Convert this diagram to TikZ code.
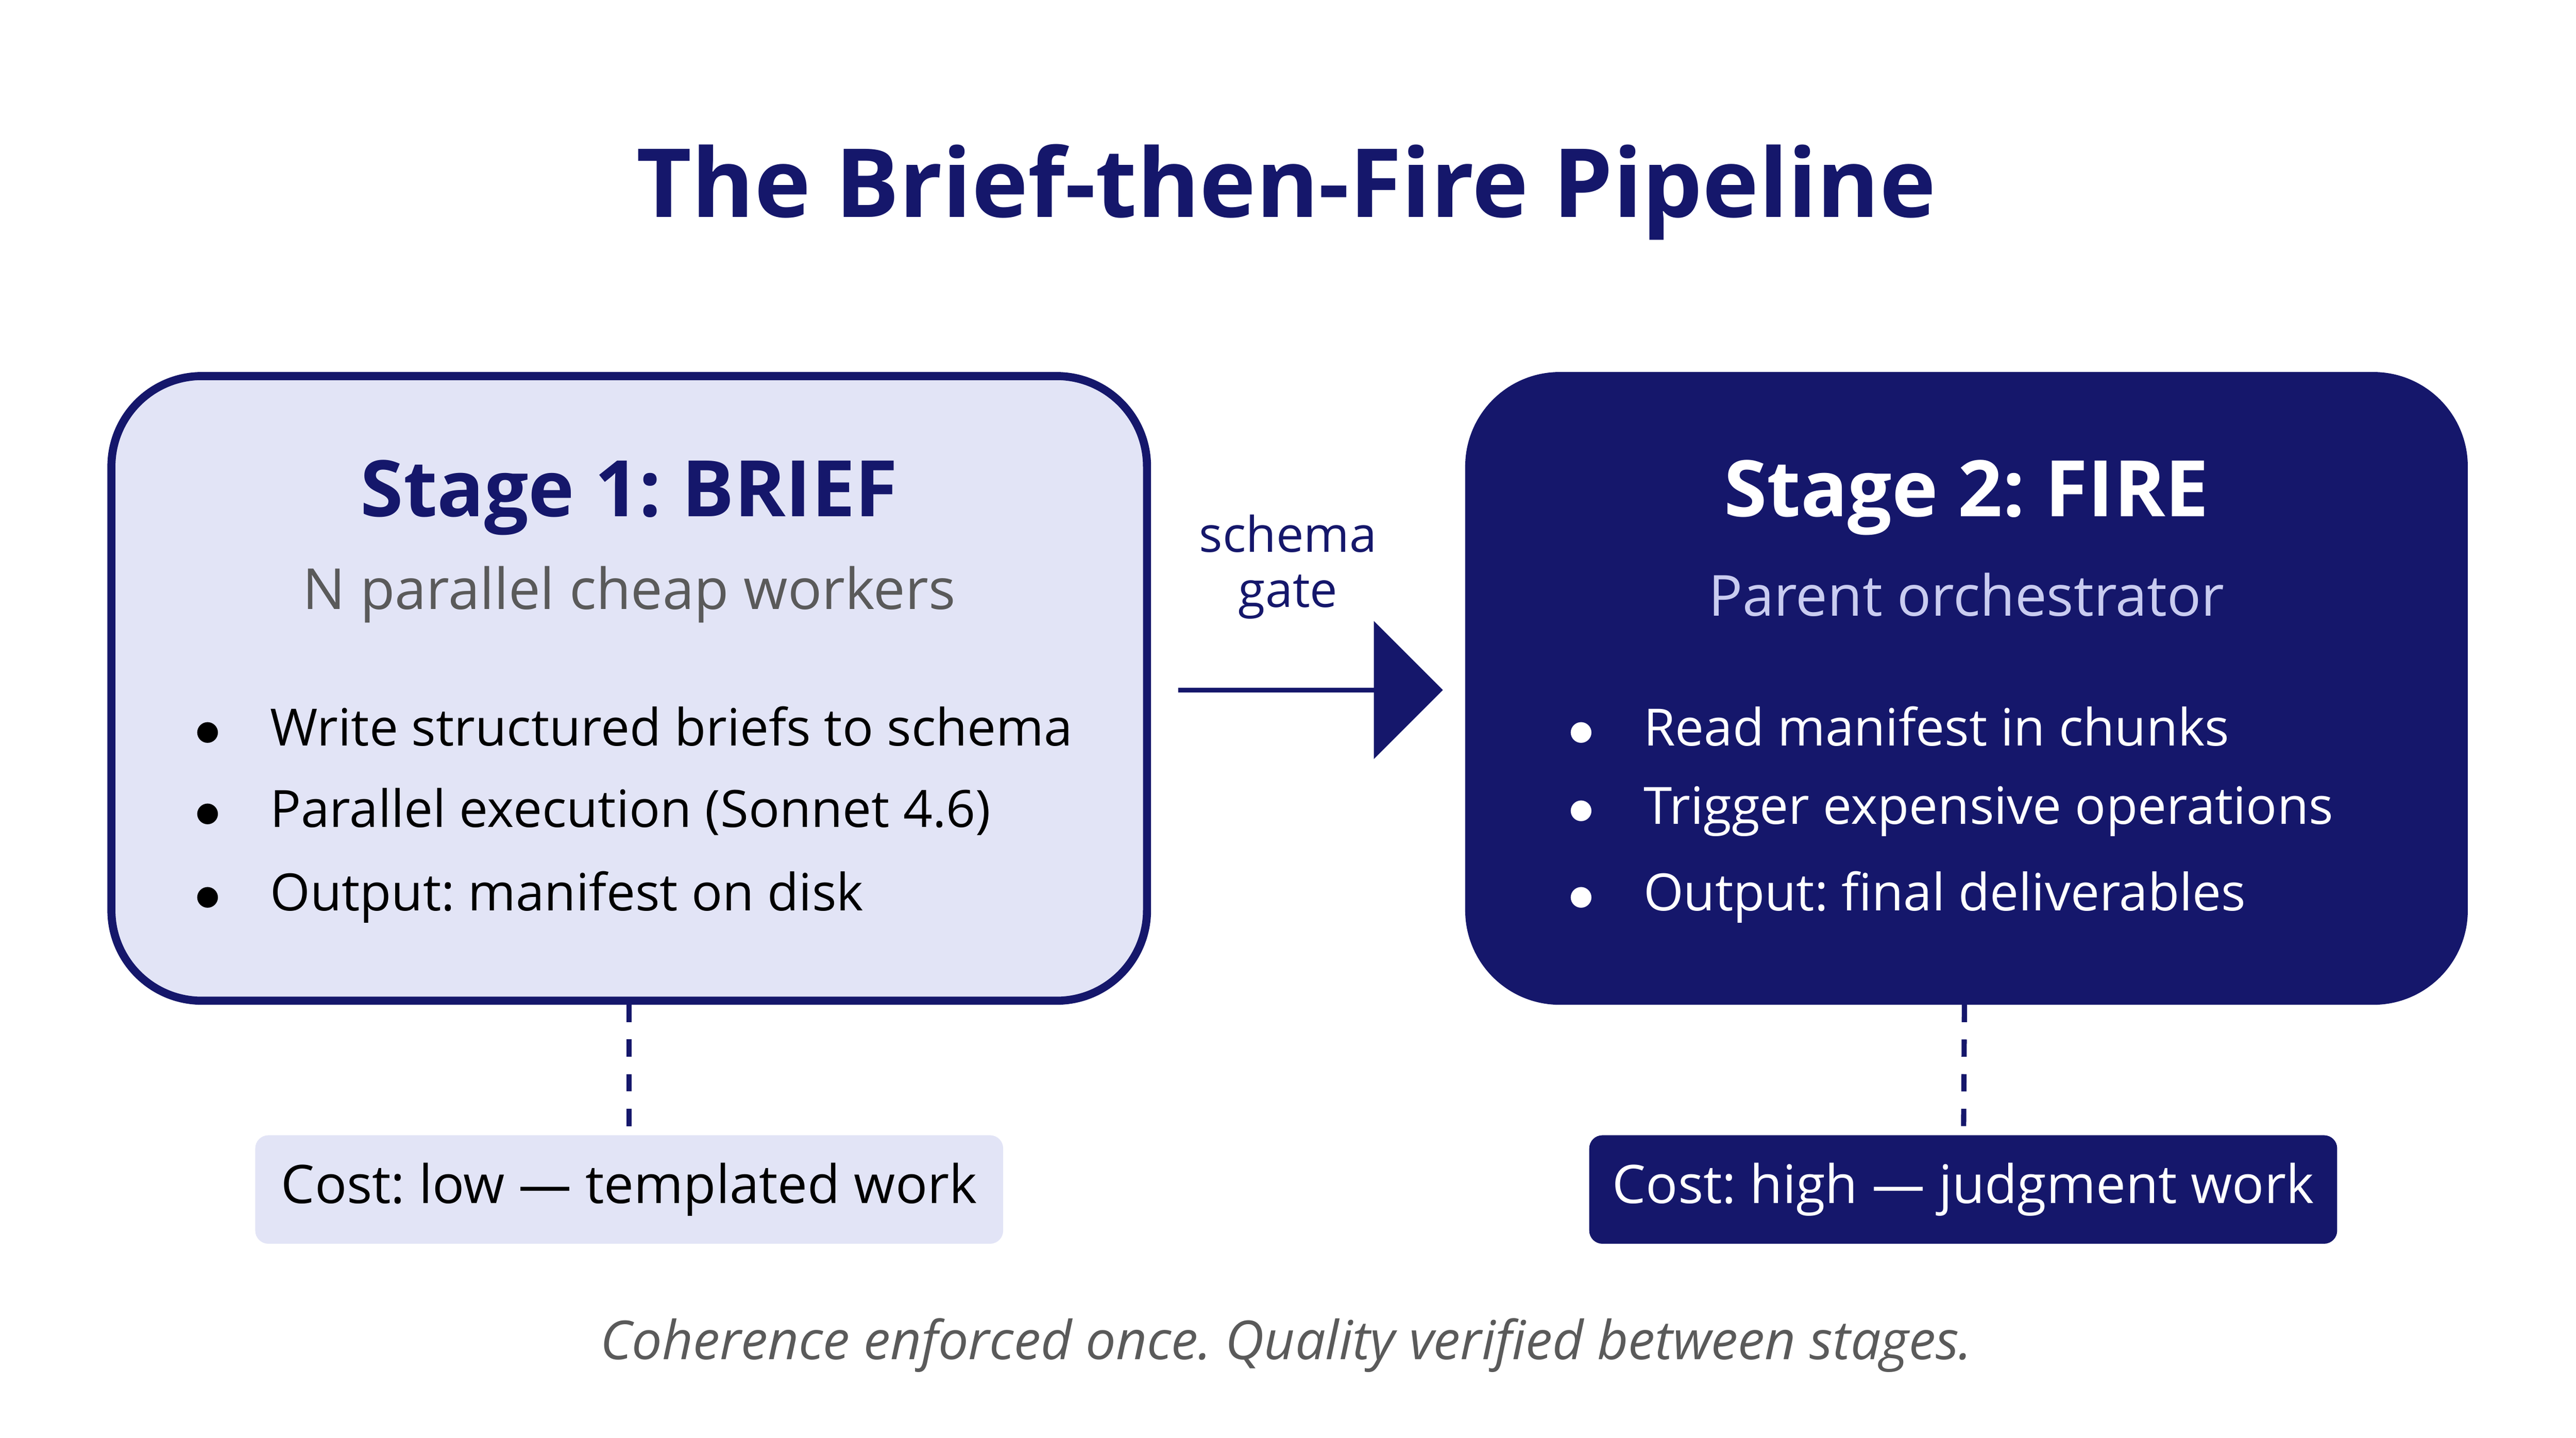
\documentclass[tikz,border=0pt]{standalone}
\usepackage{fontspec}
\setmainfont{Open Sans}
\usepackage{xcolor}
\usetikzlibrary{arrows.meta,positioning,shapes.arrows,calc}
\definecolor{navy}{HTML}{15176B}
\definecolor{lav}{HTML}{E2E4F6}
\definecolor{capgray}{HTML}{5A5A5A}
\definecolor{subblue}{HTML}{C9CCF0}

\begin{document}
\frenchspacing
\begin{tikzpicture}[
  x=0.01cm, y=-0.01cm,
  stage/.style={rectangle, rounded corners=0.55cm, line width=1.4pt, draw=navy, minimum width=6.3cm, minimum height=3.8cm},
  cost/.style={rectangle, rounded corners=0.08cm, minimum width=4.55cm, minimum height=0.66cm, font=\fontsize{9.2}{11}\selectfont},
  bullet/.style={anchor=west, font=\fontsize{8.9}{11}\selectfont},
  link/.style={navy, line width=0.9pt, dash pattern=on 3pt off 3pt}
]
\useasboundingbox (0,0) rectangle (1568,875);

% Title
\node[font=\fontsize{16.5}{19}\selectfont\bfseries, text=navy] (title) at (783,117) {The Brief-then-Fire Pipeline};

% Stage boxes
\node[stage, fill=lav] (brief) at (383,419) {};
\node[stage, fill=navy, minimum width=6.05cm] (fire) at (1197,419) {};

% Stage 1 text
\node[font=\fontsize{13.5}{16}\selectfont\bfseries, text=navy] (b1) at (383,303) {Stage 1: BRIEF};
\node[font=\fontsize{9.8}{12}\selectfont, text=capgray] (b2) at (383,362) {N parallel cheap workers};
\foreach \t [count=\i] in {Write structured briefs to schema, Parallel execution (Sonnet 4.6), Output: manifest on disk}
  \node[bullet] (bb\i) at (106,390+52*\i) {$\bullet$\hspace{0.95em}\t};

% Stage 2 text
\node[font=\fontsize{13.5}{16}\selectfont\bfseries, text=white] (f1) at (1197,303) {Stage 2: FIRE};
\node[font=\fontsize{9.8}{12}\selectfont, text=subblue] (f2) at (1197,362) {Parent orchestrator};
\foreach \t [count=\i] in {Read manifest in chunks, Trigger expensive operations, Output: final deliverables}
  \node[bullet, text=white] (fb\i) at (942,390+52*\i) {$\bullet$\hspace{0.95em}\t};

% Gate arrow
\node[single arrow, fill=navy, minimum height=1.61cm, minimum width=0.84cm, single arrow head extend=0.2cm, inner sep=0pt, single arrow tip angle=90] (gate) at (797,420) {};
\node[font=\fontsize{8.5}{9.6}\selectfont, text=navy, align=center] (gatelbl) at (784,345) {schema\\gate};

% Cost tags
\node[cost, fill=lav] (lowcost) at (383,724) {Cost: low --- templated work};
\node[cost, fill=navy, text=white] (highcost) at (1195,724) {Cost: high --- judgment work};
\draw[link] (brief) -- (lowcost);
\draw[link] (fire) -- (highcost);

% Caption
\node[font=\fontsize{9.3}{11}\selectfont\itshape, text=capgray] (caption) at (783,819) {Coherence enforced once. Quality verified between stages.};
\end{tikzpicture}
\end{document}
